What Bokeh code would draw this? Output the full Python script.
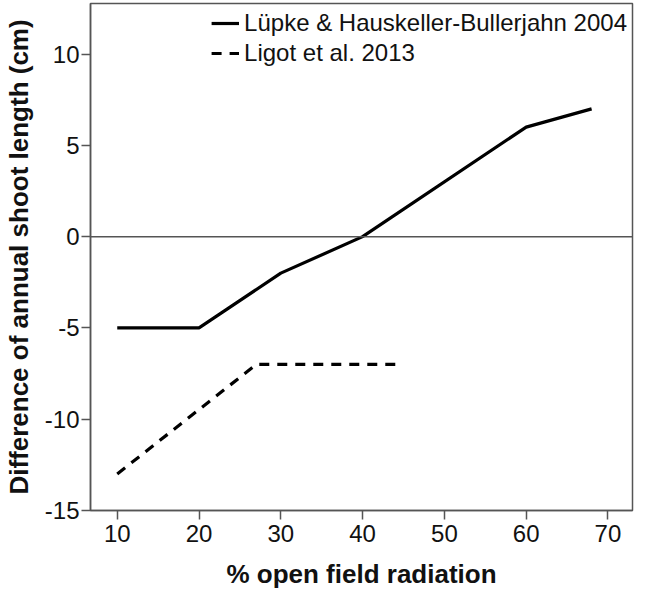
from bokeh.plotting import figure
from bokeh.models import Range1d, Span, Legend, LegendItem, FixedTicker
from bokeh.embed import file_html
from bokeh.resources import INLINE

# Data
x_lupke = [10, 20, 30, 40, 60, 68]
y_lupke = [-5, -5, -2, 0, 6, 7]
x_ligot = [10, 27, 44]
y_ligot = [-13, -7, -7]
name_lupke = "Lüpke & Hauskeller-Bullerjahn 2004"
name_ligot = "Ligot et al. 2013"
x_ticks = [10, 20, 30, 40, 50, 60, 70]
y_ticks = [-15, -10, -5, 0, 5, 10]

FONT = "Liberation Sans"
GRAY = "#555555"

p = figure(width=634, height=591, output_backend="svg", toolbar_location=None,
           x_range=Range1d(6.73, 73.0), y_range=Range1d(-15, 12.77),
           min_border_left=87, min_border_right=2, min_border_top=3, min_border_bottom=80)

p.xgrid.visible = False
p.ygrid.visible = False
p.outline_line_color = GRAY
p.outline_line_width = 1.5
p.background_fill_color = "white"
p.border_fill_color = "white"

for ax in (p.xaxis[0], p.yaxis[0]):
    ax.axis_line_color = GRAY
    ax.axis_line_width = 1.5
    ax.major_tick_line_color = GRAY
    ax.major_tick_line_width = 1.5
    ax.major_tick_in = 0
    ax.major_tick_out = 9
    ax.minor_tick_line_color = None
    ax.major_label_text_font = FONT
    ax.major_label_text_font_size = "24px"
    ax.major_label_text_color = "#111111"
    ax.axis_label_text_font = FONT
    ax.axis_label_text_font_size = "26px"
    ax.axis_label_text_font_style = "bold"
    ax.axis_label_text_color = "#111111"

p.xaxis.ticker = FixedTicker(ticks=x_ticks)
p.yaxis.ticker = FixedTicker(ticks=y_ticks)
p.yaxis.major_label_overrides = {t: str(t) for t in y_ticks}
p.xaxis.axis_label = "% open field radiation"
p.yaxis.axis_label = "Difference of annual shoot length (cm)"
p.xaxis.major_label_standoff = 5
p.yaxis.major_label_standoff = 2
p.xaxis.axis_label_standoff = 14
p.yaxis.axis_label_standoff = 8

p.add_layout(Span(location=0, dimension="width", line_color=GRAY, line_width=1.5))

r1 = p.line(x_lupke, y_lupke, line_color="black", line_width=3.2)
r2 = p.line(x_ligot, y_ligot, line_color="black", line_width=3.2, line_dash="10 8")

legend = Legend(items=[LegendItem(label=name_lupke, renderers=[r1]),
                       LegendItem(label=name_ligot, renderers=[r2])],
                location="top_right")
legend.background_fill_alpha = 0
legend.border_line_color = None
legend.label_text_font = FONT
legend.label_text_font_size = "24px"
legend.label_text_color = "#111111"
legend.glyph_width = 28
legend.glyph_height = 30
legend.label_height = 30
legend.label_standoff = 5
legend.spacing = 0
legend.padding = 4
legend.margin = 5
p.add_layout(legend)

open("out.html", "w").write(file_html(p, INLINE))
